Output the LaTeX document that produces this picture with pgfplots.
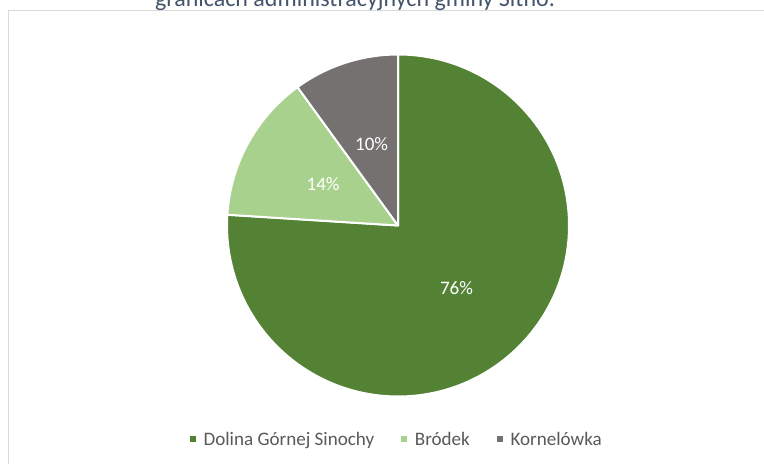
\documentclass[border=0pt]{standalone}
\usepackage{pgfplots}
\usepackage{pgfplotstable}
\pgfplotsset{compat=1.18}
\usepackage{fontspec}
\setmainfont{Carlito}
\definecolor{cA}{HTML}{548235}
\definecolor{cB}{HTML}{A9D18E}
\definecolor{cC}{HTML}{767171}
\definecolor{legtext}{HTML}{595959}
\definecolor{titlec}{HTML}{44546A}
\definecolor{framec}{HTML}{D9D9D9}

\pgfplotstableread[col sep=comma]{
name,value
Dolina Górnej Sinochy,76
Bródek,14
Kornelówka,10
}\piedata

\begin{document}%
\begin{tikzpicture}
\pgfplotstablegetelem{0}{value}\of\piedata \let\vA\pgfplotsretval
\pgfplotstablegetelem{1}{value}\of\piedata \let\vB\pgfplotsretval
\pgfplotstablegetelem{2}{value}\of\piedata \let\vC\pgfplotsretval
\pgfmathsetmacro\aO{90}
\pgfmathsetmacro\aA{\aO-3.6*\vA}
\pgfmathsetmacro\aB{\aA-3.6*\vB}
\pgfmathsetmacro\aC{\aB-3.6*\vC}
\pgfmathsetmacro\mA{(\aO+\aA)/2}
\pgfmathsetmacro\mB{(\aA+\aB)/2}
\pgfmathsetmacro\mC{(\aB+\aC)/2}
\begin{axis}[
  name=ax,
  x=0.75pt, y=0.75pt,
  xmin=0, xmax=764, ymin=-464, ymax=0,
  enlargelimits=false,
  hide axis, clip=false,
  legend columns=3,
  legend style={at={(axis cs:397,-440)}, anchor=center, draw=none, fill=none,
    font=\fontsize{14.3}{17}\selectfont, text=legtext,
    /tikz/every even column/.append style={column sep=18pt}},
]
\draw[framec, line width=0.75pt] (axis cs:8.5,-464) -- (axis cs:8.5,-10.5) -- (axis cs:764,-10.5);
\node[anchor=base, font=\fontsize{18}{22}\selectfont, text=titlec] at (axis cs:355,-6.5) {granicach administracyjnych gminy Sitno.};

\filldraw[fill=cA, draw=white, line width=1.5pt, line join=round] (axis cs:398,-225.5) -- (axis cs:{398+171*cos(\aO)},{-225.5+171*sin(\aO)}) arc[start angle=\aO, end angle=\aA, radius=128.25pt] -- cycle;
\filldraw[fill=cB, draw=white, line width=1.5pt, line join=round] (axis cs:398,-225.5) -- (axis cs:{398+171*cos(\aA)},{-225.5+171*sin(\aA)}) arc[start angle=\aA, end angle=\aB, radius=128.25pt] -- cycle;
\filldraw[fill=cC, draw=white, line width=1.5pt, line join=round] (axis cs:398,-225.5) -- (axis cs:{398+171*cos(\aB)},{-225.5+171*sin(\aB)}) arc[start angle=\aB, end angle=\aC, radius=128.25pt] -- cycle;

\node[text=white, font=\fontsize{14.3}{17}\selectfont] at (axis cs:{398+85.5*cos(\mA)},{-225.5+85.5*sin(\mA)}) {\vA\%};
\node[text=white, font=\fontsize{14.3}{17}\selectfont] at (axis cs:{398+85.5*cos(\mB)},{-225.5+85.5*sin(\mB)}) {\vB\%};
\node[text=white, font=\fontsize{14.3}{17}\selectfont] at (axis cs:{398+85.5*cos(\mC)},{-225.5+85.5*sin(\mC)}) {\vC\%};

\addlegendimage{legend image code/.code={\fill[cA, draw=none] (0pt,-1.8pt) rectangle (4.6pt,2.8pt); \path[draw=none, fill=none] (0pt,0pt) (8.5pt,0pt);}}
\addlegendentry{Dolina Górnej Sinochy}
\addlegendimage{legend image code/.code={\fill[cB, draw=none] (0pt,-1.8pt) rectangle (4.6pt,2.8pt); \path[draw=none, fill=none] (0pt,0pt) (8.5pt,0pt);}}
\addlegendentry{Bródek}
\addlegendimage{legend image code/.code={\fill[cC, draw=none] (0pt,-1.8pt) rectangle (4.6pt,2.8pt); \path[draw=none, fill=none] (0pt,0pt) (8.5pt,0pt);}}
\addlegendentry{Kornelówka}
\end{axis}
\pgfresetboundingbox
\path[use as bounding box] (ax.south west) rectangle (ax.north east);
\end{tikzpicture}%
\end{document}
